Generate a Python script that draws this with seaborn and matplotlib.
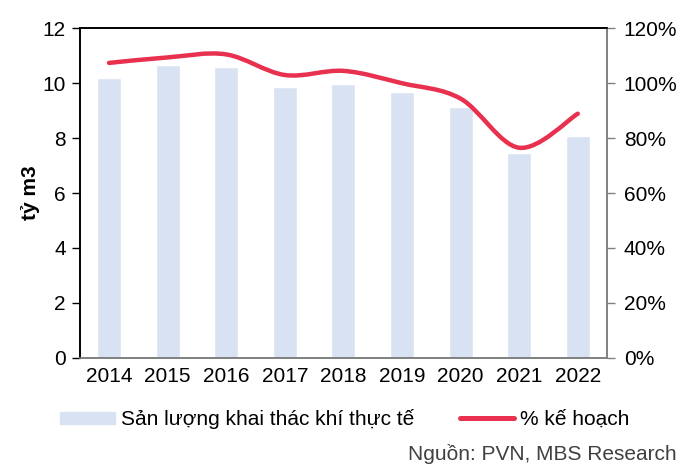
import numpy as np
import seaborn as sns
import matplotlib.pyplot as plt
from matplotlib.path import Path
from matplotlib.patches import PathPatch, Patch
from matplotlib.lines import Line2D
from matplotlib.ticker import PercentFormatter

# Data
years = ['2014', '2015', '2016', '2017', '2018', '2019', '2020', '2021', '2022']
output_bcm = [10.2, 10.65, 10.6, 9.85, 9.97, 9.67, 9.15, 7.45, 8.07]
pct_plan = [1.074, 1.094, 1.105, 1.03, 1.045, 1.0, 0.944, 0.765, 0.889]

bar_color = '#D9E2F3'
line_color = '#E8304F'

sns.set_style('white')
plt.rcParams['font.family'] = ['Liberation Sans', 'DejaVu Sans']
plt.rcParams['text.color'] = 'black'
plt.rcParams['xtick.color'] = 'black'
plt.rcParams['ytick.color'] = 'black'
plt.rcParams['axes.labelcolor'] = 'black'

fs = 15

fig = plt.figure(figsize=(6.93, 4.72), dpi=100)
ax = fig.add_axes([0.115, 0.242, 0.761, 0.698])

sns.barplot(x=years, y=output_bcm, color=bar_color, width=0.41, ax=ax,
            saturation=1)
ax.set_ylim(0, 12)
ax.set_yticks(range(0, 13, 2))
ax.set_xlim(-0.5, len(years) - 0.5)
ax.set_ylabel('tỷ m3', fontsize=fs, fontweight='bold', labelpad=2)

# x ticks between categories
ax.set_xticks(np.arange(-0.5, len(years), 1), minor=True)
ax.tick_params(axis='x', which='major', length=0, labelsize=fs, pad=7)
ax.tick_params(axis='x', which='minor', length=6, color='#808080', width=1)
ax.tick_params(axis='y', length=6, width=1, color='black', labelsize=fs,
               left=True, pad=4)

ax2 = ax.twinx()
ax2.set_ylim(0, 1.2)
ax2.set_yticks(np.arange(0, 1.21, 0.2))
ax2.yaxis.set_major_formatter(PercentFormatter(1.0, decimals=0))
ax2.tick_params(axis='y', length=6, width=1, color='#808080', labelsize=fs,
                right=True, pad=6)

# smoothed line (Catmull-Rom -> cubic Bezier), like Excel's smooth line
xs = np.arange(len(years), dtype=float)
ys = np.array(pct_plan)
verts = [(xs[0], ys[0])]
codes = [Path.MOVETO]
n = len(xs)
for i in range(n - 1):
    p0 = (xs[max(i - 1, 0)], ys[max(i - 1, 0)])
    p1 = (xs[i], ys[i])
    p2 = (xs[i + 1], ys[i + 1])
    p3 = (xs[min(i + 2, n - 1)], ys[min(i + 2, n - 1)])
    c1 = (p1[0] + (p2[0] - p0[0]) / 6, p1[1] + (p2[1] - p0[1]) / 6)
    c2 = (p2[0] - (p3[0] - p1[0]) / 6, p2[1] - (p3[1] - p1[1]) / 6)
    verts += [c1, c2, p2]
    codes += [Path.CURVE4] * 3
ax2.add_patch(PathPatch(Path(verts, codes), facecolor='none',
                        edgecolor=line_color, lw=3.2, capstyle='round'))

for a in (ax, ax2):
    a.spines['left'].set_color('black')
    a.spines['top'].set_color('black')
    a.spines['right'].set_color('#808080')
    a.spines['bottom'].set_color('#808080')
    for s in a.spines.values():
        s.set_linewidth(1.2)

handles = [Patch(color=bar_color, label='Sản lượng khai thác khí thực tế'),
           Line2D([0], [0], color=line_color, lw=3.6, solid_capstyle='round',
                  label='% kế hoạch')]
fig.legend(handles=handles, loc='center', bbox_to_anchor=(0.498, 0.112),
           ncol=2, frameon=False, fontsize=fs, columnspacing=2.2,
           handlelength=2.6, handleheight=0.5, handletextpad=0.3,
           borderpad=0, borderaxespad=0)

fig.text(0.977, 0.018, 'Nguồn: PVN, MBS Research', ha='right', va='bottom',
         fontsize=fs, color='#404040')

fig.savefig('out.png', dpi=100)
